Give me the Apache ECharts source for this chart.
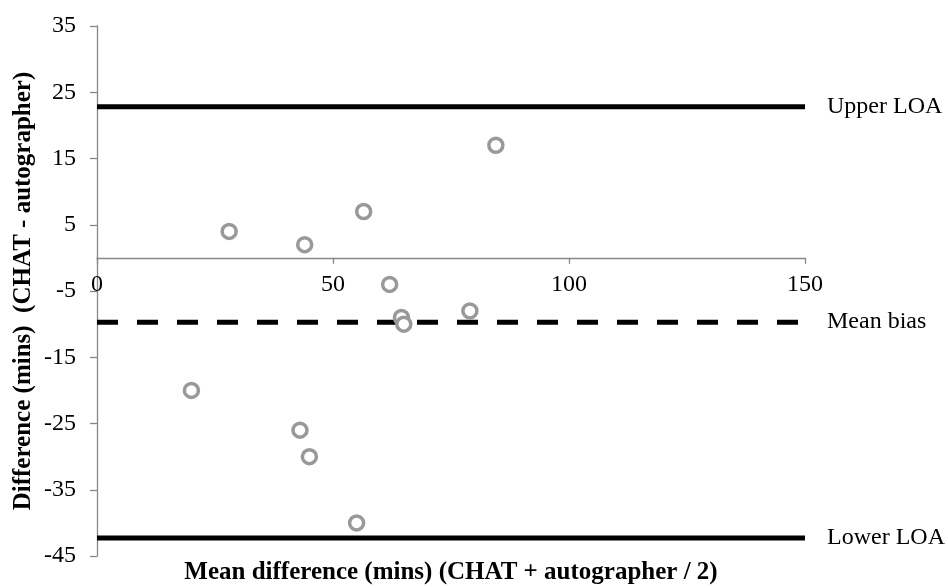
<!DOCTYPE html>
<html>
<head>
<meta charset="utf-8">
<script src="https://cdn.jsdelivr.net/npm/echarts@6/dist/echarts.min.js"></script>
<style>html,body{margin:0;padding:0;background:#fff}#c{width:948px;height:588px}</style>
</head>
<body>
<div id="c"></div>
<script>
// Data
var meanValues = [20, 28, 44, 43, 45, 55, 56.5, 62, 64.5, 65, 79, 84.5];
var diffValues = [-20, 4, 2, -26, -30, -40, 7, -4, -9, -10, -8, 17];
var upperLOA = 22.8;
var meanBias = -9.7;
var lowerLOA = -42.3;
var yTickLabels = [-45, -35, -25, -15, -5, 5, 15, 25, 35];
var xTickLabels = [0, 50, 100, 150];
var refLineNames = ['Upper LOA', 'Mean bias', 'Lower LOA'];

var FONT = '"Liberation Serif", "Times New Roman", serif';
var AXIS_GRAY = '#878787';

var points = meanValues.map(function (x, i) { return [x, diffValues[i]]; });
var xMin = xTickLabels[0], xMax = xTickLabels[xTickLabels.length - 1];
var yMin = yTickLabels[0], yMax = yTickLabels[yTickLabels.length - 1];

// layout
var GRID = { left: 97, right: 143, top: 26, bottom: 32 };
var gridHeight = 588 - GRID.top - GRID.bottom;
// place the x axis (line, ticks and labels) on y = 0, as in the original
var xAxisOffset = -((0 - yMin) / (yMax - yMin)) * gridHeight;

function refLine(name, v, dashed) {
  return {
    name: name,
    type: 'line',
    data: [[xMin, v], [xMax, v]],
    symbol: 'none',
    silent: true,
    lineStyle: { color: '#000', width: 5, type: dashed ? [21, 19] : 'solid' },
    endLabel: {
      show: true,
      formatter: name,
      distance: 22,
      color: '#000',
      fontFamily: FONT,
      fontSize: 24
    },
    z: 1
  };
}

var chart = echarts.init(document.getElementById('c'), null, { renderer: 'canvas' });
chart.setOption({
  animation: false,
  backgroundColor: '#fff',
  grid: { left: GRID.left, right: GRID.right, top: GRID.top, bottom: GRID.bottom, containLabel: false, outerBoundsMode: 'none' },
  xAxis: {
    type: 'value',
    min: xMin,
    max: xMax,
    interval: 50,
    position: 'bottom',
    offset: xAxisOffset,
    axisLine: { onZero: false, lineStyle: { color: AXIS_GRAY, width: 1.3 } },
    axisTick: { show: true, length: 6, lineStyle: { color: AXIS_GRAY, width: 1.3 } },
    axisLabel: { color: '#000', fontFamily: FONT, fontSize: 24, margin: 15 },
    splitLine: { show: false }
  },
  yAxis: {
    type: 'value',
    min: yMin,
    max: yMax,
    axisLine: { show: true, onZero: false, lineStyle: { color: AXIS_GRAY, width: 1.3 } },
    axisTick: { show: true, length: 7, customValues: yTickLabels, lineStyle: { color: AXIS_GRAY, width: 1.3 } },
    axisLabel: { color: '#000', fontFamily: FONT, fontSize: 24, margin: 21, customValues: yTickLabels },
    splitLine: { show: false },
    name: 'Difference (mins)  (CHAT - autographer)',
    nameLocation: 'middle',
    nameGap: 61,
    nameMoveOverlap: false,
    nameTextStyle: { color: '#000', fontFamily: FONT, fontSize: 25, fontWeight: 'bold' }
  },
  graphic: [{
    type: 'text',
    x: 451,
    y: 573,
    style: {
      text: 'Mean difference (mins) (CHAT + autographer / 2)',
      font: 'bold 25px ' + FONT,
      fill: '#000',
      textAlign: 'center',
      textVerticalAlign: 'middle'
    }
  }],
  series: [
    refLine(refLineNames[0], upperLOA, false),
    refLine(refLineNames[1], meanBias, true),
    refLine(refLineNames[2], lowerLOA, false),
    {
      type: 'scatter',
      data: points,
      symbol: 'circle',
      symbolSize: 14,
      itemStyle: { color: '#fff', borderColor: '#999', borderWidth: 3.5, opacity: 1 },
      z: 3
    }
  ]
});
</script>
</body>
</html>
